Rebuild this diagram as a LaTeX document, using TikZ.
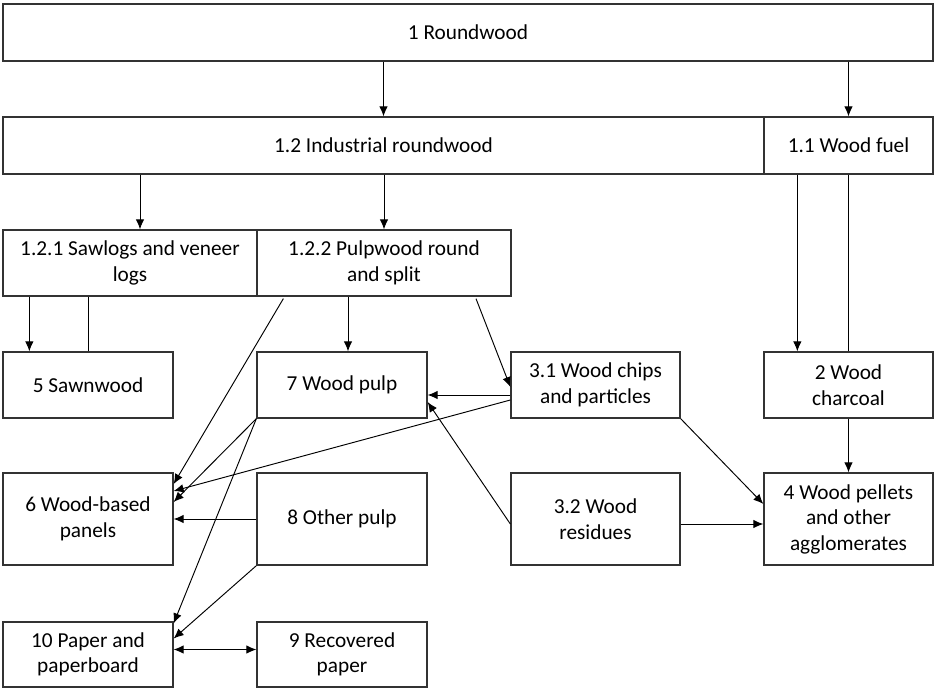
\documentclass[tikz,border=0pt]{standalone}
\usepackage{fontspec}
\setmainfont{Carlito}
\usetikzlibrary{arrows.meta}
\usetikzlibrary{calc}

\begin{document}
\begin{tikzpicture}[x=1pt,y=-1pt,inner sep=2pt,>={Latex[length=10pt,width=8.5pt]},
  box/.style={draw=black!80,line width=1.3pt,align=center,font=\fontsize{21.3}{25.5}\selectfont},
  flow/.style={line width=0.95pt}]
\useasboundingbox (0,0) rectangle (934,689);
% top rows
\draw node [box,minimum width=930,minimum height=57] (R1)   at (468,32.5)  {1 Roundwood};
\draw node [box,minimum width=761,minimum height=57] (R12)  at (383.5,145.5) {1.2 Industrial roundwood};
\draw node [box,minimum width=169,minimum height=57] (R11)  at (848.5,145.5) {1.1 Wood fuel};
\draw node [box,minimum width=254,minimum height=66] (R121) at (130,263)   {1.2.1 Sawlogs and veneer\\logs};
\draw node [box,minimum width=254,minimum height=66] (R122) at (384,263)   {1.2.2 Pulpwood round\\and split};
% products
\draw node [box,minimum width=170,minimum height=66] (R5)  at (88,385)    {5 Sawnwood};
\draw node [box,minimum width=170,minimum height=66] (R7)  at (342,385)   {7 Wood pulp};
\draw node [box,minimum width=169,minimum height=66] (R31) at (595.5,385) {3.1 Wood chips\\and particles};
\draw node [box,minimum width=169,minimum height=66] (R2)  at (848.5,385) {2 Wood\\charcoal};
\draw node [box,minimum width=170,minimum height=92] (R6)  at (88,519)    {6 Wood-based\\panels};
\draw node [box,minimum width=170,minimum height=92] (R8)  at (342,519)   {8 Other pulp};
\draw node [box,minimum width=169,minimum height=92] (R32) at (595.5,519) {3.2 Wood\\residues};
\draw node [box,minimum width=169,minimum height=92] (R4)  at (848.5,519) {4 Wood pellets\\and other\\agglomerates};
\draw node [box,minimum width=170,minimum height=65] (R10) at (88,654.5)  {10 Paper and\\paperboard};
\draw node [box,minimum width=170,minimum height=65] (R9)  at (342,654.5) {9 Recovered\\paper};
% helper points
\coordinate (c121) at ($(R121.north)+(10,0)$);
\coordinate (c5)   at ($(R5.north west)+(27,0)$);
\coordinate (c7)   at ($(R7.north)+(6,0)$);
\coordinate (c2)   at ($(R2.north west)+(34,0)$);
\coordinate (c31a) at ($(R31.west)+(0,10)$);
\coordinate (c32a) at ($(R32.east)+(0,5)$);
\coordinate (c109) at ($(R10.east)+(0,-5)$);
% connectors
\draw [flow,->] (R12.north |- R1.south) -- (R12.north);
\draw [flow,->] (R11.north |- R1.south) -- (R11.north);
\draw [flow,->] (c121 |- R12.south) -- (c121);
\draw [flow,->] (R122.north |- R12.south) -- (R122.north);
\draw [flow,->] (c5 |- R121.south) -- (c5);
\draw [flow] (R5.north |- R121.south) -- (R5.north);
\draw [flow,->] (c7 |- R122.south) -- (c7);
\draw [flow,->] ($(R122.south)+(92,2)$) -- ($(R31.west)+(0,2)$);
\draw [flow,->] ($(R122.south west)+(27,2)$) -- ($(R6.east)+(0,-35)$);
\draw [flow,->] (c31a) -- (R7.east |- c31a);
\draw [flow,->] ($(R31.west)+(0,15)$) -- ($(R6.east)+(0,-28)$);
\draw [flow,->] (R7.south west) -- ($(R6.east)+(0,-17)$);
\draw [flow,->] (R7.south west) -- ($(R10.north east)+(0,2)$);
\draw [flow,->] (R8.west) -- (R6.east);
\draw [flow,->] (R8.south west) -- ($(R10.east)+(0,-16)$);
\draw [flow,<->] (c109) -- (R9.west |- c109);
\draw [flow,->] ($(R32.west)+(0,5)$) -- ($(R7.east)+(0,17)$);
\draw [flow,->] (R31.south east) -- ($(R4.west)+(0,-15)$);
\draw [flow,->] (c32a) -- (R4.west |- c32a);
\draw [flow,->] (c2 |- R11.south) -- (c2);
\draw [flow] (R2.north |- R11.south) -- (R2.north);
\draw [flow,->] (R2.south) -- (R4.north);
\end{tikzpicture}
\end{document}
